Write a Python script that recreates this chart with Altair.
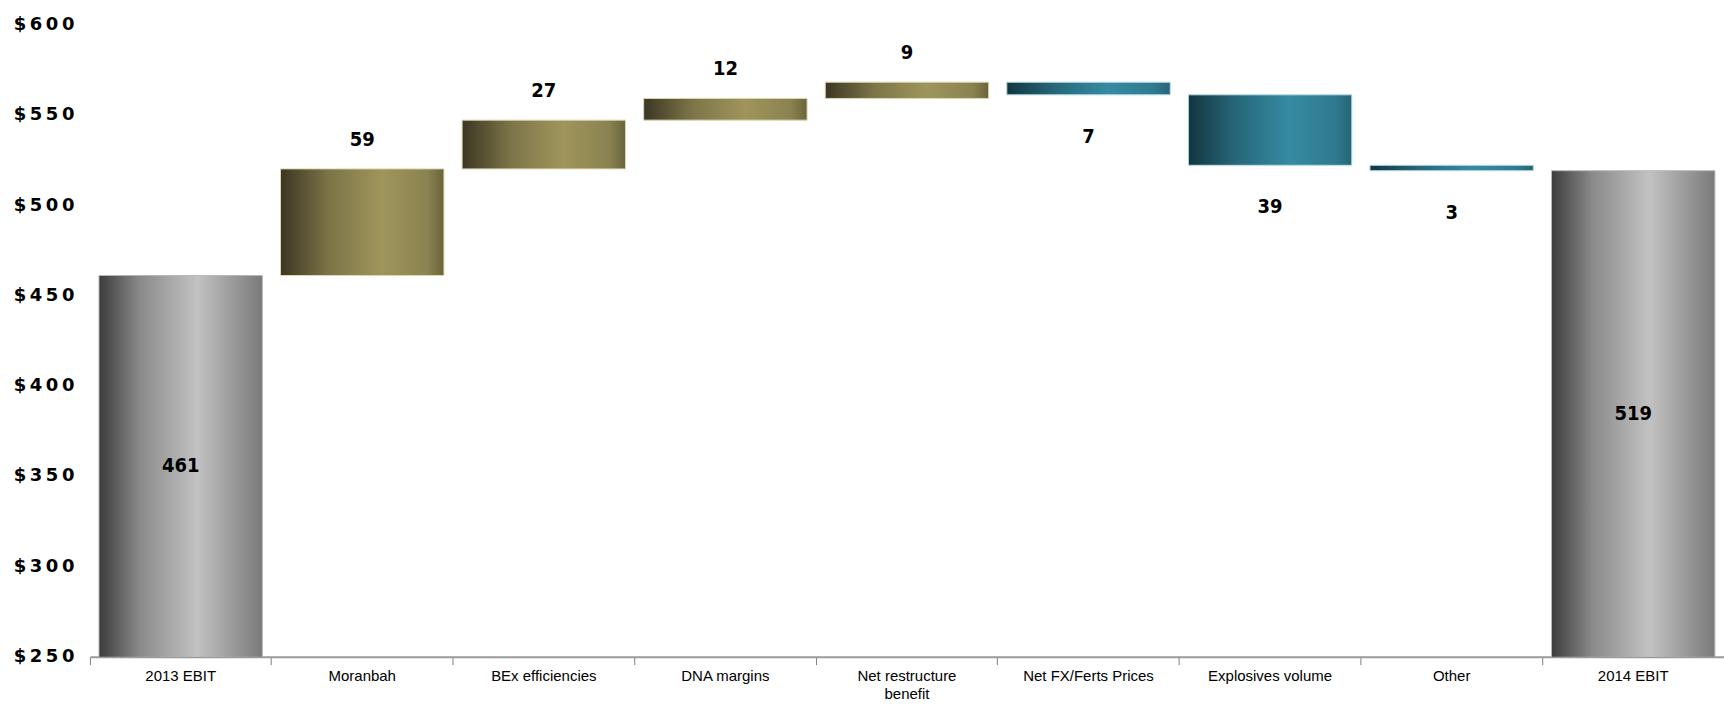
import altair as alt
import pandas as pd

# EBIT bridge, 2013 -> 2014 ($m)
categories = [
    "2013 EBIT", "Moranbah", "BEx efficiencies", "DNA margins",
    "Net restructure benefit", "Net FX/Ferts Prices", "Explosives volume",
    "Other", "2014 EBIT",
]
opening_total = 461
movements = [59, 27, 12, 9, -7, -39, -3]
closing_total = 519
axis_floor = 250
axis_ceiling = 600

rows = []
level = opening_total
rows.append(dict(cat=categories[0], start=0, end=opening_total, kind="total",
                 label=str(opening_total)))
for cat, d in zip(categories[1:-1], movements):
    rows.append(dict(cat=cat, start=level, end=level + d,
                     kind="up" if d > 0 else "down", label=str(abs(d))))
    level += d
rows.append(dict(cat=categories[-1], start=0, end=closing_total, kind="total",
                 label=str(closing_total)))
df = pd.DataFrame(rows)
df["mid"] = (axis_floor + df["end"]) / 2


def grad(stops):
    return alt.Gradient(
        gradient="linear", x1=0, x2=1, y1=0, y2=0,
        stops=[alt.GradientStop(offset=o, color=c) for o, c in stops],
    )


gray = grad([(0, "#3c3c3c"), (0.25, "#8a8a8a"), (0.6, "#c2c2c2"), (1, "#7a7a7a")])
olive = grad([(0, "#3b3623"), (0.3, "#7d7548"), (0.62, "#9f955b"), (0.9, "#8a8250"), (1, "#6a643c")])
teal = grad([(0, "#123641"), (0.3, "#27687a"), (0.62, "#368ba2"), (0.9, "#2f7a8e"), (1, "#276474")])

LABEL_FONT = "Liberation Sans, Arial, sans-serif"
VALUE_FONT = "DejaVu Sans Condensed, Liberation Sans, sans-serif"

x_enc = alt.X(
    "cat:N", sort=categories, title=None,
    scale=alt.Scale(paddingInner=0, paddingOuter=0),
    axis=alt.Axis(
        labelAngle=0, bandPosition=0, domainColor="#9a9a9a", domainWidth=2,
        tickColor="#808080", tickSize=8, tickWidth=1,
        labelFont=LABEL_FONT, labelFontSize=15, labelColor="#000000",
        labelPadding=4, labelLineHeight=18,
        labelExpr="datum.label == 'Net restructure benefit' ? ['Net restructure', 'benefit'] : datum.label",
    ),
)
y_enc = alt.Y(
    "start:Q", title=None,
    scale=alt.Scale(domain=[axis_floor, axis_ceiling], nice=False, zero=False),
    axis=alt.Axis(
        values=[250, 300, 350, 400, 450, 500, 550, 600], domain=False, ticks=False,
        grid=False, labelFont="DejaVu Sans", labelFontWeight="bold", labelFontSize=18,
        labelColor="#000000", labelPadding=16,
        labelExpr="join(split('$' + datum.value, ''), '\u2009')",
    ),
)

base = alt.Chart(df)


def bars(kind, fill, stroke):
    return base.transform_filter(alt.datum.kind == kind).mark_bar(
        color=fill, stroke=stroke, strokeWidth=1, clip=True,
        width=alt.RelativeBandSize(0.9),
    ).encode(x=x_enc, y=y_enc, y2="end:Q")


totals = bars("total", gray, "#b8b8b8")
ups = bars("up", olive, "#ddd6b0")
downs = bars("down", teal, "#b8dce6")

text_style = dict(font=VALUE_FONT, fontWeight="bold", fontSize=20,
                  color="#000000", baseline="middle", align="center")

total_labels = base.transform_filter(alt.datum.kind == "total").mark_text(
    **text_style).encode(x=x_enc, y="mid:Q", text="label:N")
up_labels = base.transform_filter(alt.datum.kind == "up").mark_text(
    dy=-29, **text_style).encode(x=x_enc, y="end:Q", text="label:N")
down_labels = base.transform_filter(alt.datum.kind == "down").mark_text(
    dy=42, **text_style).encode(x=x_enc, y="end:Q", text="label:N")

chart = alt.layer(
    totals, ups, downs, total_labels, up_labels, down_labels
).properties(
    width=1636, height=633,
    background="#ffffff",
    autosize=alt.AutoSizeParams(type="none"),
    padding={"left": 90, "top": 24, "right": 0, "bottom": 56},
).configure_view(strokeWidth=0)

chart.save("out.html", embed_options={"renderer": "svg", "actions": False})
